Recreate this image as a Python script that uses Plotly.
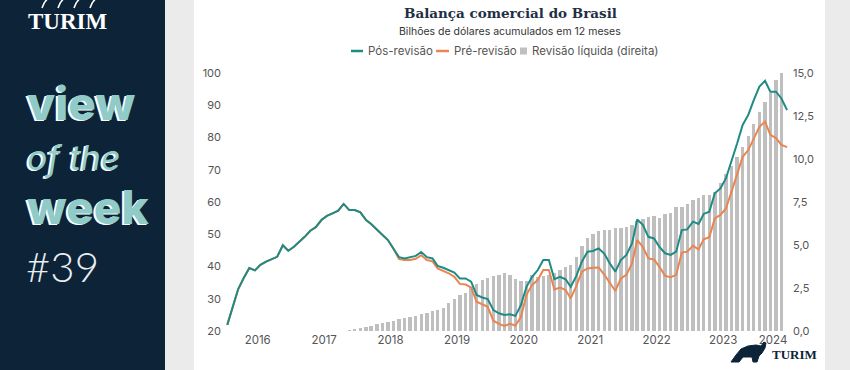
import plotly.graph_objects as go
import pandas as pd

# ---------------- data ----------------
months = pd.date_range("2016-01-01", periods=102, freq="MS")

pos_revisao = [
    21.9, 27.5, 33.0, 36.5, 39.5, 38.8, 40.5, 41.5, 42.3, 43.0,
    46.6, 44.9, 46.1, 47.6, 49.2, 51.1, 52.2, 54.4, 55.7, 56.5,
    57.3, 59.4, 57.5, 57.5, 56.8, 54.4, 53.2, 51.5, 50.0, 48.2,
    45.6, 42.9, 42.5, 42.9, 43.3, 44.5, 42.9, 42.5, 40.2, 39.6,
    38.9, 38.1, 36.3, 36.3, 35.3, 31.2, 30.4, 29.9, 26.5, 25.5,
    25.0, 25.2, 24.7, 28.1, 33.7, 36.8, 38.9, 42.0, 42.0, 36.1,
    36.8, 36.0, 33.7, 37.1, 41.5, 44.6, 44.8, 45.6, 44.0, 41.0,
    38.4, 42.0, 43.6, 47.2, 54.6, 52.9, 49.2, 48.7, 46.1, 44.1,
    43.6, 44.6, 51.3, 51.5, 53.9, 53.2, 56.3, 57.0, 62.7, 64.2,
    67.3, 72.5, 78.2, 83.9, 87.0, 91.6, 95.8, 97.6, 94.2, 94.2,
    92.1, 88.5,
]

pre_revisao = [
    21.9, 27.5, 33.0, 36.5, 39.5, 38.8, 40.5, 41.5, 42.3, 43.0,
    46.6, 44.9, 46.1, 47.6, 49.2, 51.1, 52.2, 54.4, 55.7, 56.5,
    57.3, 59.4, 57.5, 57.5, 56.8, 54.4, 53.2, 51.5, 50.0, 48.2,
    45.6, 42.3, 42.0, 42.0, 42.4, 43.5, 42.0, 41.6, 39.4, 38.7,
    37.9, 36.8, 34.6, 34.4, 33.5, 29.1, 28.4, 27.5, 23.2, 22.2,
    21.6, 22.2, 21.7, 24.4, 31.2, 34.3, 35.8, 38.9, 38.9, 32.9,
    33.5, 32.7, 30.1, 34.0, 38.4, 39.4, 39.6, 39.7, 37.5, 35.0,
    32.4, 36.3, 37.4, 41.0, 48.2, 46.1, 42.5, 42.2, 39.9, 37.1,
    36.7, 37.4, 44.3, 44.6, 46.4, 45.3, 48.4, 49.1, 54.9, 56.0,
    58.0, 63.2, 68.9, 74.0, 76.1, 79.8, 83.3, 84.9, 80.8, 79.8,
    77.7, 77.0,
]

revisao_liquida = [
    0.05, 0.10, 0.17, 0.22, 0.29, 0.38, 0.46, 0.53, 0.60, 0.68,
    0.77, 0.83, 0.90, 0.98, 1.05, 1.15, 1.22, 1.33, 1.60, 1.84,
    2.09, 2.19, 2.54, 2.73, 2.97, 3.06, 3.20, 3.26, 3.39, 3.26,
    3.04, 2.93, 2.93, 3.26, 3.16, 3.20, 3.25, 3.39, 3.55, 3.70,
    3.85, 4.28, 4.94, 5.39, 5.64, 5.83, 5.85, 5.85, 5.97, 5.97,
    6.06, 6.16, 6.41, 6.49, 6.65, 6.69, 6.55, 6.80, 6.88, 7.23,
    7.23, 7.38, 7.62, 7.75, 7.91, 7.91, 8.10, 8.60, 9.10, 9.60,
    10.10, 10.70, 11.35, 12.05, 12.75, 13.30, 13.85, 14.60, 15.00,
]
revisao_months = months[22:22 + len(revisao_liquida)]

year_labels = ["2016", "2017", "2018", "2019", "2020", "2021", "2022", "2023", "2024"]
year_centers = ["2016-06-16", "2017-06-16", "2018-06-16", "2019-06-16", "2020-06-16",
                "2021-06-16", "2022-06-16", "2023-06-16", "2024-03-16"]
left_ticks = [20, 30, 40, 50, 60, 70, 80, 90, 100]
right_ticks = [0, 2.5, 5, 7.5, 10, 12.5, 15]

# ---------------- layout helpers ----------------
W, H = 850, 370
L, R, T, B = 222, 792, 73, 331


def px(x):
    return (x - L) / (R - L)


def py(y):
    return (B - y) / (B - T)


GREEN = "#1e8b84"
ORANGE = "#ea8450"
GRAY = "#bfbfbf"
NAVY = "#0c2338"
TEAL = "#8fcbc8"
FONT = "Inter"

fig = go.Figure()

fig.add_trace(go.Bar(
    x=revisao_months, y=revisao_liquida, name="Revisão líquida (direita)",
    marker=dict(color=GRAY, line=dict(width=0)),
    width=19 * 86400000, yaxis="y",
))
fig.add_trace(go.Scatter(
    x=months, y=pre_revisao, name="Pré-revisão", mode="lines",
    line=dict(color=ORANGE, width=2), yaxis="y2",
))
fig.add_trace(go.Scatter(
    x=months, y=pos_revisao, name="Pós-revisão", mode="lines",
    line=dict(color=GREEN, width=2), yaxis="y2",
))

shapes = [
    dict(type="rect", xref="paper", yref="paper", x0=px(0), x1=px(165), y0=py(H), y1=py(0),
         fillcolor=NAVY, line=dict(width=0), layer="below"),
    dict(type="rect", xref="paper", yref="paper", x0=px(165), x1=px(194), y0=py(H), y1=py(0),
         fillcolor="#ebebeb", line=dict(width=0), layer="below"),
    dict(type="rect", xref="paper", yref="paper", x0=px(825), x1=px(W), y0=py(H), y1=py(0),
         fillcolor="#ebebeb", line=dict(width=0), layer="below"),
    # legend swatches
    dict(type="line", xref="paper", yref="paper", x0=px(351), x1=px(363), y0=py(51), y1=py(51),
         line=dict(color=GREEN, width=2.5)),
    dict(type="line", xref="paper", yref="paper", x0=px(436), x1=px(449), y0=py(51), y1=py(51),
         line=dict(color=ORANGE, width=2.5)),
    dict(type="rect", xref="paper", yref="paper", x0=px(520), x1=px(527), y0=py(54.5), y1=py(47.5),
         fillcolor=GRAY, line=dict(width=0)),
]


def path_px(points):
    return "M " + " L ".join(f"{px(a):.5f},{py(b):.5f}" for a, b in points) + " Z"


# bull icon (bottom right logo)
bull = [(731, 362), (736, 355), (741, 349), (748, 346), (756, 345), (761, 346), (764, 342),
        (766, 343), (765, 348), (762, 353), (759, 356), (757, 362), (753, 362), (752, 357),
        (743, 357), (739, 362)]
shapes.append(dict(type="path", xref="paper", yref="paper", path=path_px(bull),
                   fillcolor=NAVY, line=dict(color=NAVY, width=1)))
# horns hint on the top-left logo
for x0 in (42, 58, 74, 90):
    shapes.append(dict(type="path", xref="paper", yref="paper",
                       path=f"M {px(x0):.5f},{py(8):.5f} Q {px(x0 + 2):.5f},{py(1):.5f} {px(x0 + 7):.5f},{py(-2):.5f}",
                       line=dict(color="white", width=1.5)))

annotations = [
    dict(text="<b>Balança comercial do Brasil</b>", x=px(510), y=py(13), xref="paper", yref="paper",
         showarrow=False, xanchor="center", yanchor="middle",
         font=dict(family="DejaVu Serif", size=13.5, color="#1f2f45")),
    dict(text="Bilhões de dólares acumulados em 12 meses", x=px(510), y=py(32), xref="paper",
         yref="paper", showarrow=False, xanchor="center", yanchor="middle",
         font=dict(family=FONT, size=10.5, color="#333333")),
    dict(text="Pós-revisão", x=px(366), y=py(51), xref="paper", yref="paper", showarrow=False,
         xanchor="left", yanchor="middle", font=dict(family=FONT, size=11.5, color="#555555")),
    dict(text="Pré-revisão", x=px(452), y=py(51), xref="paper", yref="paper", showarrow=False,
         xanchor="left", yanchor="middle", font=dict(family=FONT, size=11.5, color="#555555")),
    dict(text="Revisão líquida (direita)", x=px(530), y=py(51), xref="paper", yref="paper",
         showarrow=False, xanchor="left", yanchor="middle",
         font=dict(family=FONT, size=11.5, color="#555555")),
    # left panel
    dict(text="<b>TURIM</b>", x=px(68), y=py(21), xref="paper", yref="paper", showarrow=False,
         xanchor="center", yanchor="middle",
         font=dict(family="Liberation Serif", size=23, color="white")),
    dict(text="<b>TURIM</b>", x=px(794), y=py(354), xref="paper", yref="paper", showarrow=False,
         xanchor="center", yanchor="middle",
         font=dict(family="Liberation Serif", size=13, color=NAVY)),
]

panel_texts = [
    ("view", 103, 46, 800, "normal"),
    ("of the", 157, 34, 400, "italic"),
    ("week", 207, 46, 800, "normal"),
]
for txt, yc, size, weight, style in panel_texts:
    annotations.append(dict(text=txt, x=px(25), y=py(yc), xref="paper", yref="paper",
                            showarrow=False, xanchor="left", yanchor="middle",
                            font=dict(family=FONT, size=size, color=TEAL, weight=weight,
                                      style=style, shadow="-2px 1px 0px #ffffff")))
annotations.append(dict(text="#39", x=px(24), y=py(266), xref="paper", yref="paper",
                        showarrow=False, xanchor="left", yanchor="middle",
                        font=dict(family="Lato", size=42, color="#e8eef2", weight=300)))

fig.update_layout(
    width=W, height=H, autosize=False,
    margin=dict(l=L, r=W - R, t=T, b=H - B, pad=0),
    paper_bgcolor="white", plot_bgcolor="rgba(0,0,0,0)",
    showlegend=False, bargap=0, separators=",.",
    font=dict(family=FONT, size=11, color="#555555"),
    xaxis=dict(type="date", range=["2015-12-03", "2024-06-28"], tickvals=year_centers,
               ticktext=year_labels, showgrid=False, zeroline=False, showline=False,
               ticks="", tickfont=dict(size=11.5, color="#555555")),
    yaxis=dict(side="right", range=[0, 15], tickvals=right_ticks, tickformat=".1f",
               showgrid=False, zeroline=False, showline=False, ticks="",
               tickfont=dict(size=11, color="#555555")),
    yaxis2=dict(side="left", overlaying="y", range=[20, 100], tickvals=left_ticks,
                showgrid=False, zeroline=False, showline=False, ticks="",
                tickfont=dict(size=11, color="#555555")),
    shapes=shapes, annotations=annotations,
)

fig.write_html(
    "out.html",
    config={"displayModeBar": False},
    post_script="document.body.style.margin='0';document.body.style.overflow='hidden';",
)
